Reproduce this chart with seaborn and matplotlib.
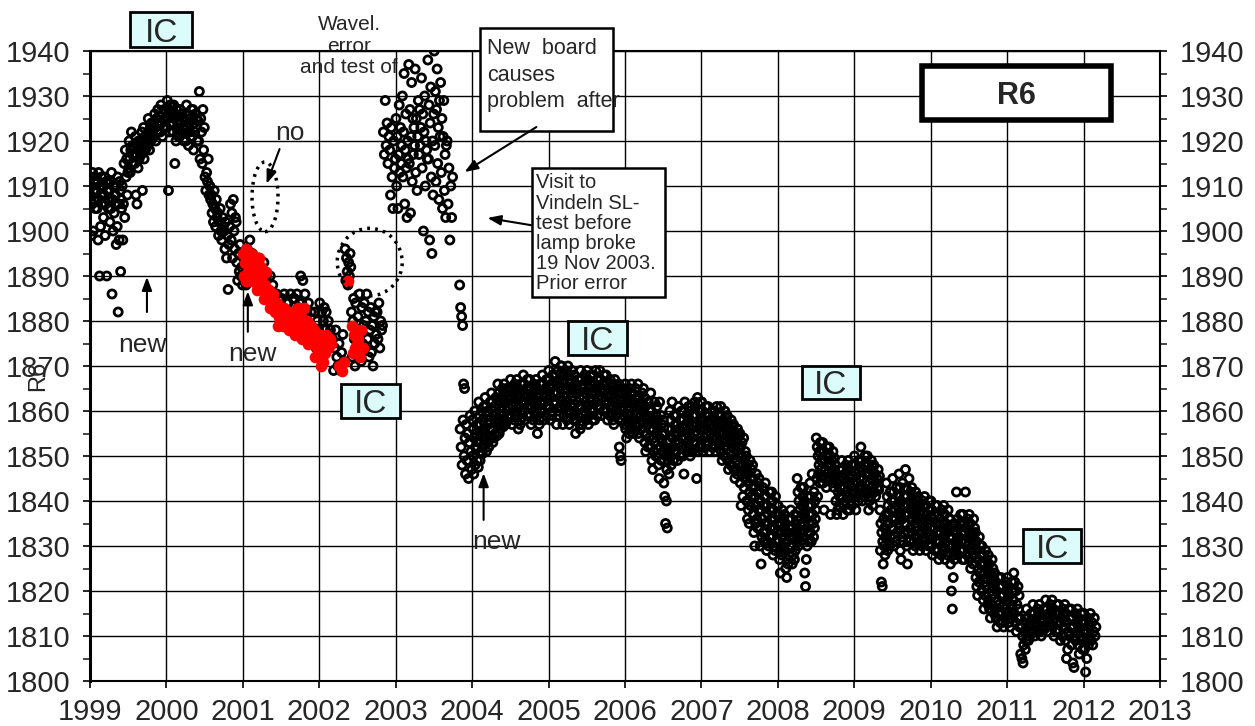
import numpy as np
import pandas as pd
import matplotlib.pyplot as plt
import seaborn as sns
from matplotlib.patches import Rectangle, Ellipse

# R6 readings, one inner list per month (Jan..Dec)
r6_1999 = [
    [1908, 1912, 1899, 1910, 1906, 1913, 1900, 1909, 1907, 1911, 1905, 1910.5, 1908.5],
    [1909, 1905, 1911, 1898, 1913, 1907, 1890, 1910, 1901, 1908, 1912, 1906, 1909.5],
    [1910, 1903, 1908, 1912, 1899, 1906, 1911, 1890, 1909, 1907, 1905, 1910.5],
    [1909, 1902, 1911, 1905, 1913, 1886, 1907, 1900, 1910, 1904, 1908, 1906],
    [1908, 1897, 1910, 1901, 1912, 1882, 1906, 1898, 1911, 1909, 1891, 1907, 1905],
    [1910, 1898, 1906, 1915, 1903, 1918, 1912, 1916, 1908, 1913],
    [1914, 1920, 1916, 1913, 1918, 1922, 1915, 1919, 1917, 1916.5, 1918.5],
    [1915, 1921, 1908, 1917, 1906, 1919, 1914, 1920, 1916, 1918, 1917.5, 1919.5],
    [1917, 1922, 1909, 1919, 1923, 1916, 1921, 1918, 1920, 1918.5, 1920.5],
    [1919, 1925, 1921, 1918, 1923, 1920, 1924, 1922, 1921.5, 1923.5],
    [1921, 1926, 1923, 1920, 1925, 1922, 1927, 1924, 1923.5, 1925.5],
    [1922, 1928, 1924, 1921, 1926, 1923, 1927, 1925, 1924.5, 1926.5],
]
r6_2000 = [
    [1923, 1929, 1925, 1909, 1927, 1922, 1928, 1924, 1926, 1925.5, 1927.5],
    [1922, 1928, 1925, 1915, 1926, 1920, 1927, 1923, 1924, 1921, 1925.5],
    [1921, 1927, 1924, 1922, 1926, 1923, 1925, 1920, 1924.5, 1922.5],
    [1920, 1928, 1923, 1926, 1919, 1924, 1922, 1925, 1921, 1927],
    [1921, 1927, 1918, 1924, 1922, 1926, 1923, 1925, 1920, 1924.5],
    [1920, 1931, 1916, 1925, 1922, 1915, 1927, 1918, 1923],
    [1912, 1909, 1913, 1911, 1916, 1908, 1910, 1907],
    [1908, 1904, 1906, 1902, 1909, 1905, 1901, 1907, 1903],
    [1904, 1899, 1902, 1905, 1900, 1898, 1903, 1901],
    [1900, 1896, 1902, 1894, 1899, 1887, 1897, 1901],
    [1906, 1898, 1904, 1894, 1907, 1900, 1896, 1903, 1902],
    [1893, 1889, 1895, 1891, 1897, 1890, 1892, 1888],
]
r6_2001 = [
    [1890, 1894, 1888, 1896, 1892],
    [1898, 1891, 1895, 1889, 1893],
    [1892, 1888, 1894, 1887, 1890],
    [1889, 1893, 1885, 1890, 1887],
    [1886, 1890, 1884, 1888, 1885],
    [1884, 1886, 1882, 1885, 1883],
    [1885, 1883, 1886, 1881, 1884],
    [1884, 1880, 1886, 1882, 1885],
    [1885, 1881, 1886, 1883, 1884],
    [1890, 1884, 1889, 1880, 1886, 1882],
    [1880, 1884, 1876, 1882, 1878],
    [1876, 1882, 1874, 1880, 1878],
]
r6_2002 = [
    [1884, 1876, 1882, 1875, 1880, 1883, 1878],
    [1882, 1874, 1880, 1877, 1878, 1876],
    [1876, 1869, 1874, 1878, 1872, 1870],
    [1875, 1869, 1873, 1877, 1871],
    [1896, 1889, 1894, 1891, 1888, 1893, 1890, 1895, 1892],
    [1882, 1872, 1880, 1885, 1876, 1870, 1884, 1878, 1874],
    [1881, 1873, 1886, 1877, 1871, 1883, 1875, 1879],
    [1884, 1874, 1880, 1886, 1876, 1882, 1872, 1878],
    [1883, 1873, 1879, 1870, 1881, 1875, 1882, 1877],
    [1882, 1876, 1884, 1874, 1880, 1878, 1879],
    [1922, 1917, 1929, 1919, 1924, 1915, 1921],
    [1918, 1908, 1923, 1912, 1905, 1920, 1914, 1916],
]
r6_2003 = [
    [1925, 1910, 1921, 1905, 1917, 1928, 1913, 1923, 1915, 1919],
    [1930, 1912, 1922, 1935, 1906, 1918, 1926, 1914, 1903, 1920, 1916],
    [1937, 1915, 1927, 1904, 1921, 1933, 1911, 1925, 1917, 1923, 1919],
    [1936, 1913, 1925, 1909, 1921, 1929, 1917, 1927, 1919, 1923],
    [1934, 1914, 1926, 1900, 1922, 1930, 1910, 1920, 1918, 1916],
    [1938, 1916, 1928, 1898, 1924, 1932, 1912, 1895, 1920, 1908, 1926],
    [1940, 1919, 1931, 1911, 1927, 1936, 1915, 1923, 1907, 1929, 1921],
    [1933, 1913, 1925, 1905, 1921, 1929, 1909, 1917, 1903, 1919],
    [1920, 1906, 1914, 1898, 1910, 1903, 1912],
    [],
    [1888, 1856, 1883, 1852, 1881, 1848, 1879, 1858, 1866, 1850, 1865, 1854, 1846],
    [1857, 1849, 1855, 1845, 1853, 1859, 1851, 1847],
]
r6_2004 = [
    [1858, 1850, 1856, 1846, 1854, 1860, 1848, 1852, 1855, 1851.5, 1857, 1849, 1853.5, 1847.5],
    [1862, 1853, 1859, 1849, 1857, 1851, 1860, 1855, 1850.5, 1858, 1854, 1861, 1852.5, 1856],
    [1863, 1855, 1861, 1851, 1859, 1853, 1860, 1857, 1852, 1858, 1854, 1862, 1856, 1860.5],
    [1864, 1856, 1862, 1853, 1860, 1854, 1861, 1858, 1855, 1859, 1863, 1857, 1854.5, 1861.5],
    [1866, 1858, 1864, 1855, 1862, 1856, 1863, 1860, 1857, 1861, 1865, 1859, 1856.5, 1862.5],
    [1866, 1858, 1864, 1857, 1862, 1865, 1860, 1863, 1859, 1861, 1858.5, 1864.5, 1860.5, 1862.5],
    [1867, 1859, 1865, 1857, 1863, 1861, 1864, 1862, 1858, 1866, 1860, 1864.5, 1859.5, 1862.5],
    [1867, 1859, 1865, 1856, 1863, 1861, 1864, 1857, 1858, 1866, 1860, 1862, 1864.5, 1859.5],
    [1868, 1860, 1866, 1858, 1864, 1862, 1865, 1863, 1859, 1867, 1861, 1864.5, 1860.5, 1862.5],
    [1867, 1859, 1865, 1857, 1863, 1861, 1864, 1862, 1858, 1866, 1860, 1862.5, 1864.5, 1859.5],
    [1867, 1859, 1865, 1855, 1863, 1861, 1864, 1857, 1858, 1866, 1860, 1862, 1864.5, 1860.5],
    [1868, 1860, 1866, 1858, 1864, 1862, 1865, 1863, 1859, 1867, 1861, 1864.5, 1860.5, 1862.5],
]
r6_2005 = [
    [1869, 1861, 1867, 1858, 1865, 1863, 1866, 1859, 1860, 1868, 1862, 1864, 1866.5, 1861.5],
    [1871, 1862, 1868, 1857, 1866, 1864, 1869, 1860, 1859, 1867, 1863, 1865, 1861, 1870],
    [1870, 1862, 1868, 1857, 1866, 1859, 1867, 1864, 1861, 1869, 1863, 1865, 1858, 1860],
    [1870, 1862, 1868, 1857, 1866, 1860, 1867, 1864, 1861, 1869, 1863, 1865, 1859, 1858],
    [1868, 1860, 1866, 1855, 1864, 1858, 1865, 1862, 1859, 1867, 1861, 1863, 1857, 1856],
    [1869, 1861, 1867, 1857, 1865, 1859, 1866, 1863, 1860, 1868, 1862, 1864, 1858, 1866.5],
    [1869, 1861, 1867, 1857, 1865, 1859, 1866, 1863, 1860, 1868, 1862, 1864, 1858, 1866.5],
    [1868, 1860, 1866, 1858, 1864, 1869, 1865, 1862, 1859, 1867, 1861, 1863, 1865.5, 1860.5],
    [1869, 1861, 1867, 1859, 1865, 1863, 1866, 1864, 1860, 1868, 1862, 1864.5, 1860.5, 1866.5],
    [1868, 1860, 1866, 1858, 1864, 1862, 1865, 1863, 1859, 1867, 1861, 1863.5, 1859.5, 1865.5],
    [1866, 1858, 1864, 1857, 1862, 1867, 1860, 1863, 1859, 1865, 1861, 1863.5, 1859.5, 1865.5],
    [1866, 1852, 1864, 1850, 1862, 1849, 1860, 1858, 1865, 1861, 1863, 1859, 1857, 1864.5],
]
r6_2006 = [
    [1866, 1856, 1864, 1854, 1862, 1858, 1863, 1860, 1855, 1865, 1857, 1861, 1859, 1863.5],
    [1866, 1856, 1864, 1855, 1862, 1858, 1861, 1860, 1857, 1865, 1859, 1863, 1856.5, 1862.5],
    [1866, 1855, 1863, 1854, 1861, 1857, 1862, 1859, 1856, 1864, 1858, 1860, 1865, 1857.5],
    [1863, 1853, 1861, 1851, 1859, 1855, 1858, 1857, 1852, 1862, 1854, 1860, 1856, 1858.5],
    [1864, 1852, 1860, 1849, 1858, 1847, 1856, 1854, 1851, 1862, 1853, 1857, 1850, 1859, 1855],
    [1861, 1850, 1858, 1848, 1856, 1845, 1862, 1854, 1852, 1859, 1849, 1857, 1853, 1855, 1851],
    [1858, 1844, 1855, 1841, 1852, 1835, 1850, 1840, 1847, 1834, 1856, 1849, 1853, 1846, 1851],
    [1860, 1850, 1858, 1848, 1856, 1862, 1854, 1852, 1849, 1859, 1851, 1855, 1857, 1853],
    [1859, 1851, 1857, 1849, 1855, 1861, 1856, 1853, 1850, 1858, 1852, 1854, 1860, 1856.5],
    [1860, 1850, 1858, 1846, 1856, 1862, 1854, 1857, 1852, 1859, 1851, 1855, 1853, 1861],
    [1860, 1852, 1858, 1850, 1856, 1861, 1854, 1857, 1851, 1859, 1853, 1855, 1857.5, 1862],
    [1861, 1853, 1859, 1845, 1857, 1863, 1855, 1851, 1852, 1860, 1854, 1856, 1858, 1862],
]
r6_2007 = [
    [1862, 1852, 1860, 1851, 1858, 1856, 1857, 1854, 1853, 1861, 1855, 1859, 1857.5, 1852.5],
    [1861, 1853, 1859, 1851, 1857, 1858, 1855, 1856, 1852, 1860, 1854, 1858.5, 1856.5, 1853.5],
    [1860, 1852, 1858, 1851, 1856, 1861, 1854, 1857, 1853, 1859, 1855, 1857.5, 1852.5, 1855.5],
    [1861, 1851, 1859, 1849, 1857, 1858, 1853, 1855, 1850, 1860, 1852, 1856, 1854, 1858.5],
    [1859, 1849, 1857, 1847, 1855, 1856, 1851, 1853, 1848, 1858, 1850, 1854, 1852, 1856.5],
    [1857, 1847, 1855, 1845, 1853, 1854, 1849, 1851, 1846, 1856, 1848, 1852, 1850, 1854.5],
    [1855, 1844, 1852, 1839, 1850, 1853, 1846, 1841, 1848, 1854, 1843, 1849, 1845, 1851, 1847],
    [1850, 1840, 1848, 1836, 1846, 1838, 1844, 1835, 1842, 1849, 1839, 1845, 1841, 1847, 1843],
    [1848, 1837, 1845, 1833, 1843, 1830, 1841, 1835, 1839, 1846, 1836, 1842, 1834, 1844, 1838],
    [1845, 1834, 1842, 1830, 1840, 1826, 1838, 1832, 1836, 1843, 1833, 1839, 1831, 1841, 1835],
    [1844, 1833, 1841, 1829, 1839, 1831, 1837, 1835, 1830, 1842, 1832, 1838, 1834, 1840, 1836],
    [1842, 1832, 1840, 1828, 1838, 1830, 1836, 1834, 1829, 1841, 1831, 1837, 1833, 1839, 1835],
]
r6_2008 = [
    [1839, 1831, 1837, 1827, 1835, 1824, 1833, 1829, 1828, 1838, 1830, 1836, 1832, 1834],
    [1837, 1829, 1835, 1825, 1833, 1823, 1831, 1827, 1826, 1836, 1828, 1834, 1830, 1832],
    [1838, 1830, 1836, 1826, 1834, 1828, 1833, 1832, 1827, 1837, 1829, 1835, 1831, 1833.5],
    [1845, 1834, 1842, 1830, 1840, 1832, 1838, 1836, 1831, 1843, 1833, 1839, 1835, 1841, 1837],
    [1843, 1832, 1840, 1824, 1838, 1821, 1836, 1827, 1834, 1830, 1841, 1833, 1839, 1831, 1837, 1835],
    [1844, 1833, 1841, 1831, 1839, 1846, 1837, 1835, 1832, 1842, 1834, 1840, 1836, 1838],
    [1854, 1845, 1852, 1841, 1850, 1846, 1848, 1851, 1844, 1853, 1847, 1849, 1845.5, 1851.5],
    [1853, 1844, 1851, 1838, 1849, 1845, 1847, 1850, 1843, 1852, 1846, 1848, 1844.5, 1850.5],
    [1852, 1845, 1850, 1837, 1848, 1846, 1849, 1844, 1851, 1847, 1843, 1849.5, 1845.5],
    [1848, 1840, 1846, 1837, 1844, 1838, 1842, 1845, 1839, 1847, 1841, 1843, 1840.5, 1845.5],
    [1849, 1841, 1847, 1837, 1845, 1839, 1843, 1846, 1840, 1848, 1842, 1844, 1838, 1846.5],
    [1849, 1841, 1847, 1838, 1845, 1840, 1843, 1846, 1839, 1848, 1842, 1844, 1841.5, 1846.5],
]
r6_2009 = [
    [1850, 1842, 1848, 1838, 1846, 1841, 1844, 1847, 1840, 1849, 1843, 1845, 1841.5, 1847.5],
    [1852, 1843, 1849, 1840, 1847, 1842, 1845, 1848, 1841, 1850, 1844, 1846, 1842.5, 1848.5],
    [1850, 1842, 1848, 1838, 1846, 1840, 1844, 1847, 1841, 1849, 1843, 1845, 1839, 1847.5],
    [1848, 1842, 1846, 1841, 1844, 1845, 1843, 1847, 1842.5, 1845.5],
    [1838, 1829, 1835, 1822, 1833, 1821, 1831, 1826, 1836, 1830, 1834, 1828, 1832, 1837],
    [1844, 1833, 1841, 1829, 1839, 1831, 1837, 1835, 1830, 1842, 1832, 1838, 1834, 1840, 1836],
    [1845, 1834, 1842, 1830, 1840, 1832, 1838, 1836, 1831, 1843, 1833, 1839, 1835, 1841, 1837],
    [1846, 1834, 1843, 1829, 1840, 1827, 1838, 1832, 1836, 1844, 1831, 1839, 1833, 1841, 1835, 1837],
    [1847, 1835, 1843, 1830, 1841, 1826, 1839, 1833, 1837, 1845, 1831, 1840, 1834, 1842, 1836, 1838],
    [1843, 1833, 1841, 1829, 1839, 1831, 1837, 1835, 1830, 1842, 1832, 1838, 1834, 1840, 1836],
    [1841, 1831, 1839, 1829, 1837, 1833, 1838, 1835, 1830, 1840, 1832, 1836, 1834],
    [1841, 1831, 1839, 1829, 1837, 1833, 1836, 1835, 1830, 1840, 1832, 1838, 1834],
]
r6_2010 = [
    [1840, 1830, 1838, 1828, 1836, 1832, 1837, 1834, 1829, 1839, 1831, 1835, 1833],
    [1839, 1829, 1837, 1827, 1835, 1831, 1836, 1833, 1828, 1838, 1830, 1834, 1832],
    [1839, 1829, 1837, 1827, 1835, 1831, 1834, 1833, 1828, 1838, 1830, 1836, 1832],
    [1836, 1826, 1834, 1820, 1832, 1816, 1830, 1823, 1828, 1835, 1827, 1833, 1829, 1831],
    [1842, 1830, 1836, 1828, 1834, 1832, 1835, 1829, 1837, 1831, 1833, 1827],
    [1837, 1829, 1835, 1827, 1833, 1842, 1831, 1834, 1828, 1836, 1830, 1832],
    [1837, 1827, 1835, 1825, 1833, 1829, 1832, 1831, 1826, 1836, 1828, 1834, 1830],
    [1833, 1823, 1831, 1821, 1829, 1819, 1827, 1825, 1822, 1832, 1824, 1830, 1826, 1828, 1820],
    [1830, 1820, 1828, 1818, 1826, 1816, 1824, 1822, 1819, 1829, 1821, 1827, 1823, 1825, 1817],
    [1828, 1818, 1826, 1816, 1824, 1814, 1822, 1820, 1817, 1827, 1819, 1825, 1821, 1823, 1815],
    [1824, 1816, 1822, 1814, 1820, 1812, 1818, 1815, 1823, 1817, 1821, 1813, 1819],
    [1823, 1815, 1821, 1813, 1819, 1812, 1817, 1814, 1822, 1816, 1820, 1818],
]
r6_2011 = [
    [1823, 1815, 1821, 1813, 1819, 1812, 1817, 1814, 1822, 1816, 1820, 1818],
    [1824, 1815, 1822, 1813, 1820, 1811, 1817, 1814, 1821, 1816, 1819, 1812],
    [1814, 1806, 1812, 1805, 1810, 1804, 1808, 1811, 1813, 1807, 1809],
    [1816, 1810, 1814, 1809, 1812, 1813, 1811, 1815, 1810.5, 1813.5],
    [1817, 1811, 1815, 1810, 1813, 1814, 1812, 1816, 1811.5, 1814.5],
    [1817, 1811, 1815, 1810, 1813, 1814, 1812, 1816, 1811.5, 1814.5],
    [1818, 1812, 1816, 1811, 1814, 1815, 1813, 1817, 1812.5, 1815.5],
    [1818, 1812, 1816, 1810, 1814, 1815, 1811, 1817, 1813, 1815.5],
    [1817, 1811, 1815, 1809, 1813, 1814, 1810, 1816, 1812, 1814.5],
    [1817, 1809, 1815, 1805, 1813, 1807, 1811, 1816, 1810, 1814, 1812],
    [1816, 1808, 1814, 1804, 1812, 1803, 1810, 1815, 1809, 1813, 1811],
    [1816, 1808, 1814, 1806, 1812, 1810, 1815, 1809, 1813, 1807, 1811],
]
r6_2012 = [
    [1815, 1807, 1813, 1802, 1811, 1805, 1809, 1814, 1808, 1812, 1810],
    [1815, 1809, 1813, 1808, 1811, 1814, 1810, 1812],
]

# red (flagged) readings
red_2001 = [
    [1895, 1890, 1893, 1896, 1889, 1894, 1891, 1892],
    [1894, 1889, 1892, 1895, 1890, 1893, 1891],
    [1893, 1887, 1891, 1894, 1889, 1892],
    [1890, 1885, 1888, 1891, 1886, 1887],
    [1887, 1883, 1885, 1886, 1884],
    [1882, 1884, 1879, 1881, 1880],
    [1882, 1879, 1883, 1880, 1881],
    [1880, 1878, 1882, 1879, 1881],
    [1882, 1877, 1880, 1883, 1878, 1879],
    [1881, 1876, 1879, 1883, 1877, 1880],
    [1880, 1875, 1878, 1876, 1879, 1877],
    [1878, 1872, 1876, 1874, 1877],
]
red_2002 = [
    [1877, 1870, 1875, 1871, 1876, 1873],
    [1877, 1874, 1876, 1875],
    [],
    [1870, 1869, 1871],
    [1889],
    [1879, 1873, 1877, 1874, 1878, 1875],
    [1876, 1872, 1878, 1874],
]

years = [1999, 2000, 2001, 2002, 2003, 2004, 2005,
         2006, 2007, 2008, 2009, 2010, 2011, 2012]
black_data = [r6_1999, r6_2000, r6_2001, r6_2002, r6_2003, r6_2004, r6_2005,
              r6_2006, r6_2007, r6_2008, r6_2009, r6_2010, r6_2011, r6_2012]
red_years = [2001, 2002]
red_data = [red_2001, red_2002]


def to_frame(yrs, data):
    rows = []
    for yr, months in zip(yrs, data):
        for m, vals in enumerate(months):
            n = len(vals)
            for k, v in enumerate(vals):
                # readings spread over the days of their month
                rows.append((yr + (m + (k + 0.5) / n) / 12, v))
    return pd.DataFrame(rows, columns=["year", "r6"])


df = to_frame(years, black_data)
df_red = to_frame(red_years, red_data)

sns.set_style("white")
plt.rcParams["font.family"] = ["Liberation Sans", "DejaVu Sans"]

fig = plt.figure(figsize=(12.55, 7.26), dpi=100)
ax = fig.add_axes([90 / 1255, 45 / 726, 1070 / 1255, 630 / 726])

sns.scatterplot(data=df, x="year", y="r6", ax=ax, marker="o", s=34,
                facecolors="none", edgecolor="black", linewidth=2.0,
                zorder=3, legend=False)
sns.scatterplot(data=df_red, x="year", y="r6", ax=ax, marker="o", s=50,
                color="red", edgecolor="red", linewidth=1.3,
                zorder=4, legend=False)

ax.set_xlim(1999, 2013)
ax.set_ylim(1800, 1940)
ax.set_xticks(range(1999, 2014))
ax.set_yticks(range(1800, 1941, 10))
ax.set_yticks(range(1805, 1940, 10), minor=True)
ax.grid(True, which="major", color="black", linewidth=1)
ax.set_axisbelow(True)
ax.tick_params(axis="both", which="major", labelsize=21, direction="out",
               length=5, width=1.2, color="black")
ax.tick_params(axis="y", which="both", left=True, right=True,
               labelleft=True, labelright=True)
ax.tick_params(axis="y", which="minor", length=5, width=1.2)
ax.tick_params(axis="y", which="major", pad=9)
ax.tick_params(axis="x", which="major", bottom=True, pad=7)
for side in ["top", "bottom", "right"]:
    ax.spines[side].set_linewidth(1.5)
    ax.spines[side].set_color("black")
ax.spines["left"].set_linewidth(2.2)
ax.spines["left"].set_color("black")

ax.set_xlabel("")
ax.set_ylabel("R6", fontsize=17)
ax.yaxis.set_label_coords(-0.038, 0.484)

# IC boxes
ic_boxes = [(1999.93, 1944.7, 0.81, 7.8), (2002.67, 1862.2, 0.76, 7.4),
            (2005.64, 1876.2, 0.76, 7.4), (2008.69, 1866.4, 0.76, 7.4),
            (2011.59, 1830.0, 0.76, 7.4)]
for cx, cy, bw, bh in ic_boxes:
    ax.add_patch(Rectangle((cx - bw / 2, cy - bh / 2), bw, bh, facecolor="#dcfbfb",
                           edgecolor="black", linewidth=2, clip_on=False, zorder=5))
    ax.text(cx, cy, "IC", fontsize=24, ha="center", va="center_baseline", zorder=6)

arrow = dict(arrowstyle="-|>,head_length=0.8,head_width=0.3", color="black",
             lw=1.5, shrinkA=0, shrinkB=0)

# "new" markers
for tx, ty, ax_x, y0, y1 in [(1999.69, 1874.7, 1999.745, 1882.0, 1889.8),
                             (2001.12, 1872.7, 2001.065, 1877.6, 1886.6),
                             (2004.32, 1830.9, 2004.15, 1835.8, 1846.2)]:
    ax.text(tx, ty, "new", fontsize=19, ha="center", va="center", zorder=6)
    ax.annotate("", xy=(ax_x, y1), xytext=(ax_x, y0), arrowprops=arrow, zorder=6)

ax.text(2001.61, 1921.8, "no", fontsize=19, ha="center", va="center", zorder=6)
ax.annotate("", xy=(2001.31, 1910.5), xytext=(2001.48, 1918.2), arrowprops=arrow,
            zorder=6)
ax.add_patch(Ellipse((2001.29, 1907.6), 0.34, 15.5, fill=False, edgecolor="black",
                     linewidth=2.5, linestyle=(0, (0.8, 1.5)), zorder=6))
ax.add_patch(Ellipse((2002.66, 1893.1), 0.85, 15.0, fill=False, edgecolor="black",
                     linewidth=2.5, linestyle=(0, (0.8, 1.5)), zorder=6))

ax.text(2002.39, 1941.1, "Wavel.\nerror\nand test of", fontsize=15,
        ha="center", va="center", linespacing=1.15, zorder=1)

# text boxes
ax.add_patch(Rectangle((2004.10, 1922.2), 1.74, 22.9, facecolor="white",
                       edgecolor="black", linewidth=1.8, clip_on=False, zorder=5))
ax.text(2004.19, 1942.8, "New  board\ncauses\nproblem  after", fontsize=15.5,
        ha="left", va="top", linespacing=1.33, zorder=6)
ax.annotate("", xy=(2003.9, 1913.1), xytext=(2004.84, 1923.1), arrowprops=arrow,
            zorder=6)

ax.add_patch(Rectangle((2004.78, 1885.3), 1.74, 28.7, facecolor="white",
                       edgecolor="black", linewidth=1.8, zorder=5))
ax.text(2004.84, 1912.8, "Visit to\nVindeln SL-\ntest before\nlamp broke\n19 Nov 2003.\nPrior error",
        fontsize=14.5, ha="left", va="top", linespacing=1.08, zorder=6)
ax.annotate("", xy=(2004.2, 1902.9), xytext=(2004.77, 1901.3), arrowprops=arrow,
            zorder=6)

ax.add_patch(Rectangle((2009.89, 1924.7), 2.47, 12.0, facecolor="white",
                       edgecolor="black", linewidth=4, zorder=5))
ax.text(2011.12, 1930.7, "R6", fontsize=22, fontweight="bold", ha="center",
        va="center_baseline", zorder=6)

fig.savefig("out.png", dpi=100)
